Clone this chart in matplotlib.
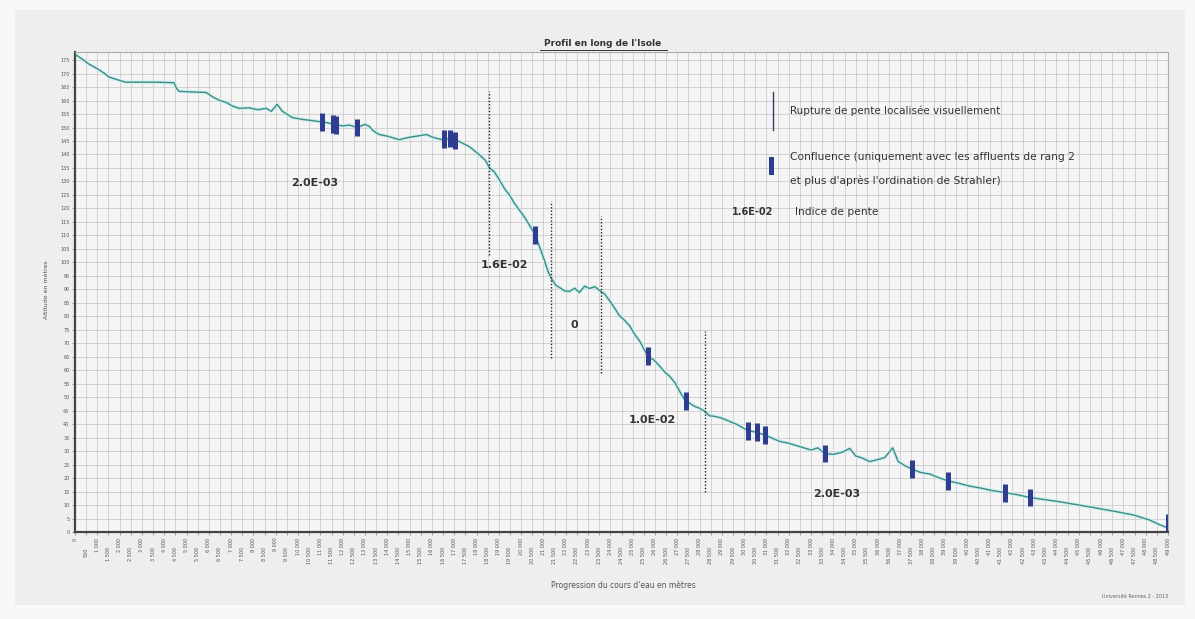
import matplotlib
matplotlib.use('Agg')
import matplotlib.pyplot as plt
from matplotlib.patches import Rectangle
from matplotlib.lines import Line2D
import numpy as np

# profil en long (distance depuis la source en m, altitude en m)
distance = [0, 300, 628, 1000, 1300, 1526, 1800, 2100, 2288, 3000, 3700, 4442,
            4550, 4667, 5200, 5878, 6200, 6500, 6775, 7050, 7359, 7800, 8200,
            8570, 8800, 9064, 9300, 9737, 10200, 10600, 10948, 11300, 11621,
            12000, 12300, 12653, 13000, 13192, 13400, 13640, 14000, 14538,
            15000, 15400, 15749, 16100, 16467, 16800, 17230, 17679, 18128,
            18400, 18577, 18800, 19026, 19250, 19475, 19700, 19923, 20150,
            20372, 20641, 20850, 21045, 21200, 21359, 21550, 21718, 21950,
            22167, 22400, 22615, 22850, 23064, 23300, 23513, 23750, 23962,
            24200, 24410, 24650, 24859, 25100, 25308, 25500, 25667, 25950,
            26205, 26450, 26654, 26900, 27103, 27372, 27550, 27775, 28000,
            28224, 28450, 28673, 29000, 29346, 29700, 30154, 30500, 30917,
            31250, 31590, 32000, 32487, 33000, 33300, 33609, 34000, 34400,
            34731, 35000, 35300, 35628, 36000, 36300, 36660, 36900, 37200,
            37513, 37900, 38320, 38700, 39128, 39600, 40115, 40600, 41100,
            41685, 42200, 42806, 43400, 44152, 44800, 45498, 46100, 46844,
            47500, 48190, 48600, 49000]
altitude = [177.2, 175.5, 173.5, 171.8, 170.2, 168.7, 168.0, 167.2, 166.8,
            166.8, 166.8, 166.6, 164.5, 163.4, 163.2, 163.0, 161.2, 160.0,
            159.3, 158.0, 157.1, 157.3, 156.6, 157.1, 156.0, 158.6, 156.0,
            153.7, 153.0, 152.6, 152.2, 151.8, 151.1, 150.6, 150.9, 150.0,
            151.2, 150.4, 148.6, 147.4, 146.8, 145.5, 146.4, 146.9, 147.4,
            146.2, 145.5, 145.9, 144.8, 142.9, 139.9, 137.8, 135.1, 133.5,
            130.6, 127.4, 125.0, 121.9, 119.4, 116.8, 113.8, 110.1, 105.2,
            100.7, 96.8, 94.0, 91.5, 90.7, 89.4, 89.2, 90.4, 88.8, 91.2, 90.3,
            91.0, 89.6, 88.2, 85.8, 82.9, 80.2, 78.4, 76.5, 73.2, 70.9, 68.0,
            65.3, 63.8, 61.6, 59.2, 57.8, 55.3, 52.2, 48.5, 47.8, 46.6, 45.9,
            44.8, 43.1, 42.9, 42.2, 41.0, 39.8, 37.6, 37.1, 36.0, 34.8, 33.6,
            32.9, 31.7, 30.4, 31.2, 29.1, 28.8, 29.6, 31.0, 28.2, 27.4, 26.1,
            26.9, 27.6, 31.2, 26.2, 24.6, 23.4, 22.1, 21.5, 20.2, 19.0, 18.1,
            17.0, 16.3, 15.4, 14.6, 13.9, 12.8, 12.1, 11.2, 10.3, 9.3, 8.4,
            7.3, 6.2, 4.4, 2.8, 1.5]

# confluences (affluents de rang >= 2)
conf_x = [11083, 11550, 11700, 12653, 16557, 16826, 17051, 20641, 25666,
          27371, 30153, 30557, 30916, 33607, 37511, 39127, 41685, 42806, 48998]
conf_alt = [152.0, 151.3, 151.0, 150.0, 145.6, 145.9, 145.2, 110.1, 65.3,
            48.5, 37.6, 37.0, 36.0, 29.1, 23.4, 19.0, 14.6, 12.8, 3.5]

# ruptures de pente (x, bas, haut)
rupt_x = [18577, 21359, 23603, 28224]
rupt_bas = [102.6, 64.6, 59.0, 14.9]
rupt_haut = [163.4, 122.8, 117.0, 74.6]

# indices de pente
pentes = ['2.0E-03', '1.6E-02', '0', '1.0E-02', '2.0E-03']
pentes_pos = [(0.2196, 0.727), (0.393, 0.556), (0.457, 0.431),
              (0.528, 0.233), (0.697, 0.079)]

x_ticks = np.arange(0, 49001, 500)

bg = '#eeeeee'
grid_color = '#cccccc'
line_color = '#3f8c84'
halo_color = '#cdeff1'
conf_color = '#2e3d8f'
txt = '#333333'

fig = plt.figure(figsize=(11.95, 6.19), dpi=100)
fig.patch.set_facecolor('#f8f8f8')
fig.add_artist(Rectangle((15 / 1195, 14 / 619), 1170 / 1195, 595 / 619,
                         transform=fig.transFigure, facecolor=bg,
                         edgecolor='none', zorder=-10))

ax = fig.add_axes([75 / 1195, 87 / 619, 1093 / 1195, 480 / 619])
ax.set_facecolor('#f5f5f5')

ax.plot(distance, altitude, color=halo_color, lw=2.6, zorder=2,
        solid_capstyle='round')
ax.plot(distance, altitude, color=line_color, lw=1.0, zorder=3)

ax.vlines(conf_x, [a - 3.3 for a in conf_alt], [a + 3.3 for a in conf_alt],
          color=conf_color, lw=3.6, zorder=4)

ax.vlines(rupt_x, rupt_bas, rupt_haut, color='#222222', lw=1.0,
          linestyle=(0, (1, 1.4)), zorder=5)

for label, (px, py) in zip(pentes, pentes_pos):
    ax.text(px, py, label, transform=ax.transAxes, ha='center', va='center',
            fontsize=8, fontweight='bold', color=txt)

# legende
ax.add_line(Line2D([0.6386, 0.6386], [0.8375, 0.9167], transform=ax.transAxes,
                   color='#3a3a6a', lw=1.0))
ax.text(0.654, 0.877, 'Rupture de pente localisée visuellement',
        transform=ax.transAxes, fontsize=7.5, va='center', color=txt)
ax.add_line(Line2D([0.637, 0.637], [0.75, 0.777], transform=ax.transAxes,
                   color=conf_color, lw=3.6))
ax.text(0.654, 0.781, 'Confluence (uniquement avec les affluents de rang 2',
        transform=ax.transAxes, fontsize=7.7, va='center', color=txt)
ax.text(0.654, 0.731, "et plus d'après l'ordination de Strahler)",
        transform=ax.transAxes, fontsize=7.7, va='center', color=txt)
ax.text(0.620, 0.667, '1.6E-02', transform=ax.transAxes, fontsize=7,
        fontweight='bold', ha='center', va='center', color=txt)
ax.text(0.659, 0.667, 'Indice de pente', transform=ax.transAxes, fontsize=7.7,
        va='center', color=txt)

ax.set_xlim(0, 49000)
ax.set_ylim(0, 178)
ax.set_xticks(x_ticks)
ax.set_xticklabels([f'{v:,}'.replace(',', ' ') for v in x_ticks],
                   rotation=90, fontsize=3.5, color='#555555')
ax.set_yticks(np.arange(0, 176, 5))
ax.set_yticklabels([str(v) for v in np.arange(0, 176, 5)], fontsize=3.5,
                   color='#555555')
ax.tick_params(axis='both', length=2, width=0.5, color='#777777', pad=2)
for i, tick in enumerate(ax.xaxis.get_major_ticks()):
    if i % 2 == 1:
        tick.set_pad(9)

ax.grid(True, color=grid_color, lw=0.6)
ax.set_axisbelow(True)

ax.spines['left'].set_color('#444444')
ax.spines['left'].set_linewidth(1.6)
ax.spines['bottom'].set_color('#444444')
ax.spines['bottom'].set_linewidth(1.6)
ax.spines['top'].set_color('#aaaaaa')
ax.spines['top'].set_linewidth(0.8)
ax.spines['right'].set_color('#aaaaaa')
ax.spines['right'].set_linewidth(0.8)

# titre souligne
fig.text(603 / 1195, 1 - 44 / 619, "Profil en long de l'Isole",
         ha='center', va='center', fontsize=6.5, fontweight='bold', color=txt)
fig.add_artist(Line2D([540 / 1195, 667 / 1195], [1 - 50 / 619, 1 - 50 / 619],
                      transform=fig.transFigure, color=txt, lw=0.7))

fig.text(47 / 1195, 1 - 290 / 619, 'Altitude en mètres', rotation=90,
         ha='center', va='center', fontsize=4.5, color='#555555')
fig.text(623 / 1195, 1 - 585 / 619, "Progression du cours d'eau en mètres",
         ha='center', va='center', fontsize=5.5, color='#555555')
fig.text(1135 / 1195, 1 - 597 / 619, 'Université Rennes 2 - 2013',
         ha='center', va='center', fontsize=3.5, color='#666666')

fig.savefig('out.png', dpi=100, facecolor=fig.get_facecolor())
